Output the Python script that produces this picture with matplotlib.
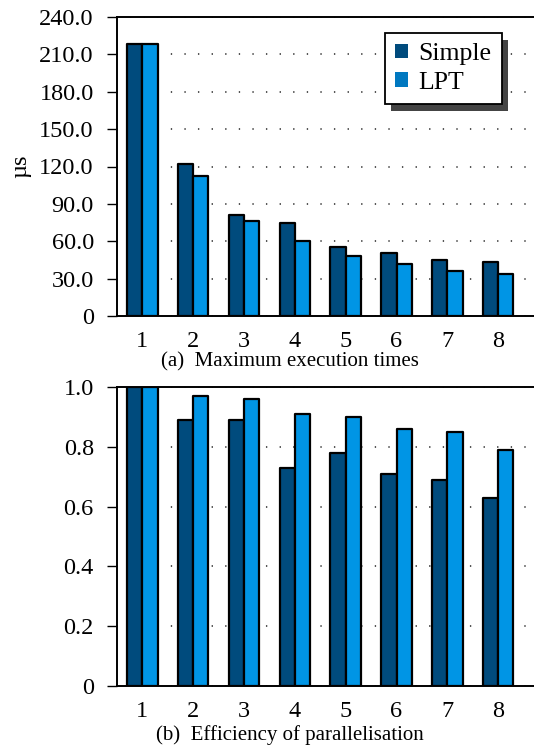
import numpy as np
import matplotlib
matplotlib.use('Agg')
import matplotlib.pyplot as plt
from matplotlib.patches import Patch, Rectangle
from matplotlib.transforms import IdentityTransform

plt.rcParams['font.family'] = ['Liberation Serif', 'DejaVu Serif']
plt.rcParams['lines.dash_capstyle'] = 'round'

cores = [1, 2, 3, 4, 5, 6, 7, 8]
simple_time = [218, 122, 81, 75, 55, 50.5, 45, 43]
lpt_time = [218, 112.5, 76, 60, 48, 41.5, 36.5, 34]
simple_eff = [1.0, 0.89, 0.89, 0.73, 0.78, 0.71, 0.69, 0.63]
lpt_eff = [1.0, 0.97, 0.96, 0.91, 0.90, 0.86, 0.85, 0.79]
time_ticks = [0, 30, 60, 90, 120, 150, 180, 210, 240]
time_labels = ['0', '30.0', '60.0', '90.0', '120.0', '150.0', '180.0', '210.0', '240.0']
eff_ticks = [0, 0.2, 0.4, 0.6, 0.8, 1.0]
eff_labels = ['0', '0.2', '0.4', '0.6', '0.8', '1.0']

c_simple = '#004b7d'
c_lpt = '#0095e5'

W, H = 534, 748
fig = plt.figure(figsize=(W / 100, H / 100), dpi=100)

left = 117 / W
width = 432 / W
ax1 = fig.add_axes([left, 1 - 316 / H, width, 299 / H])
ax2 = fig.add_axes([left, 1 - 686 / H, width, 299 / H])

x = np.array(cores)
bw = 0.3


def style(ax, ticks, labels, ymax):
    ax.set_xlim(0.5, 9.0)
    ax.set_ylim(0, ymax)
    ax.set_yticks(ticks)
    ax.set_yticklabels(labels)
    ax.set_xticks(cores)
    ax.tick_params(axis='y', direction='out', length=7.2, width=1, pad=9.5,
                   labelsize=17.5, color='black')
    ax.tick_params(axis='x', length=0, pad=10.5, labelsize=17.5)
    ax.spines['right'].set_visible(False)
    for s in ['left', 'top', 'bottom']:
        ax.spines[s].set_linewidth(1.4)
    ax.set_axisbelow(True)
    ax.yaxis.grid(True, color='black', linestyle=(0, (0.1, 8.8)), linewidth=1.1)


for ax, a, b in [(ax1, simple_time, lpt_time), (ax2, simple_eff, lpt_eff)]:
    ax.bar(x - bw / 2, a, bw, color=c_simple, edgecolor='black', linewidth=1.6,
           joinstyle='round', zorder=2)
    ax.bar(x + bw / 2, b, bw, color=c_lpt, edgecolor='black', linewidth=1.6,
           joinstyle='round', zorder=2)

style(ax1, time_ticks, time_labels, 240)
style(ax2, eff_ticks, eff_labels, 1.0)

handles = [Patch(facecolor=c_simple, edgecolor='none', label='Simple'),
           Patch(facecolor='#0078c0', edgecolor='none', label='LPT')]
leg = ax1.legend(handles=handles, loc='upper left', bbox_to_anchor=(0.620, 0.9465),
                 borderaxespad=0, fancybox=False, framealpha=1, edgecolor='black',
                 fontsize=18.5, handlelength=0.5, handleheight=0.5, handletextpad=0.4,
                 labelspacing=0.25, borderpad=0.4)
leg.get_frame().set_linewidth(1.3)
leg.set_zorder(5)

fig.text(21 / W, 1 - 166 / H, 'µs', rotation=90, ha='center', va='center', fontsize=17.5)
fig.text(290 / W, 1 - 362 / H, '(a)  Maximum execution times', ha='center', va='center',
         fontsize=15)
fig.text(290 / W, 1 - 735 / H, '(b)  Efficiency of parallelisation', ha='center', va='center',
         fontsize=15)

fig.canvas.draw()
bb = leg.get_window_extent()
shadow = Rectangle((bb.x0 + 6, bb.y0 - 7), bb.width, bb.height, transform=IdentityTransform(),
                   facecolor='#444444', edgecolor='none', zorder=4.9, clip_on=False)
ax1.add_artist(shadow)

fig.savefig('out.png', dpi=100)
